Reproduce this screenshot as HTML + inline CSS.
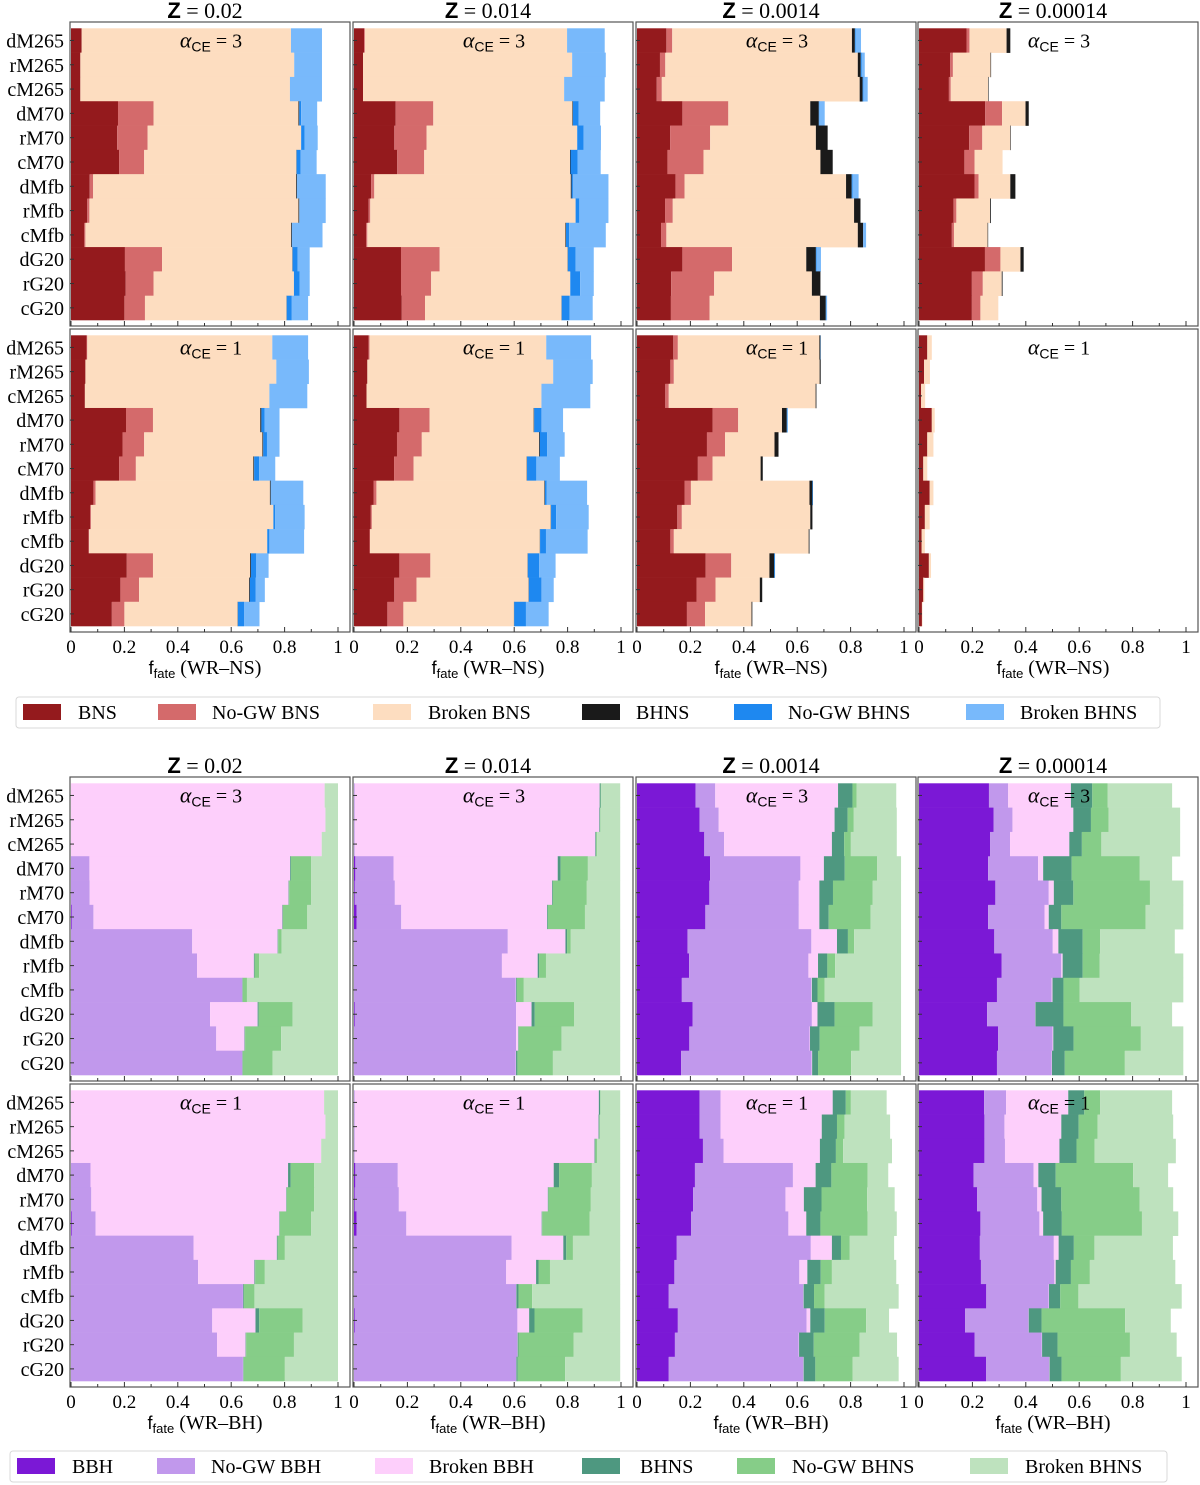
<!DOCTYPE html>
<html><head><meta charset="utf-8"><style>
body{margin:0;background:#fff}
svg{display:block}
.serif{font-family:"Liberation Serif",serif}
.sans{font-family:"Liberation Sans",sans-serif}
</style></head><body>
<svg id="fig" width="1200" height="1485" viewBox="0 0 1200 1485" xmlns="http://www.w3.org/2000/svg"></svg>
<script>
const categories = ["dM265","rM265","cM265","dM70","rM70","cM70","dMfb","rMfb","cMfb","dG20","rG20","cG20"];
const metallicities = ["0.02","0.014","0.0014","0.00014"];
const xTickLabels = ["0","0.2","0.4","0.6","0.8","1"];
const xTickValues = [0,0.2,0.4,0.6,0.8,1];
const nsSeries = ["BNS","No-GW BNS","Broken BNS","BHNS","No-GW BHNS","Broken BHNS"];
const bhSeries = ["BBH","No-GW BBH","Broken BBH","BHNS","No-GW BHNS","Broken BHNS"];
const nsColors = ["#941a1d","#d46a6b","#fdddc0","#1a1a1a","#1e88f0","#78b9fb"];
const bhColors = ["#7b18d6","#c198ec","#fdcffb","#4e9880","#86cd88","#bee2be"];

// cumulative fractions per category (series stacked in order)
const nsA3Z1 = [[.04,.04,.824,.824,.824,.94],[.035,.035,.836,.836,.836,.94],[.035,.035,.82,.82,.82,.94],[.176,.309,.852,.855,.862,.922],[.173,.287,.862,.862,.875,.924],[.18,.274,.844,.845,.86,.92],[.07,.083,.843,.846,.846,.954],[.061,.069,.852,.855,.855,.954],[.05,.054,.824,.827,.827,.942],[.202,.341,.829,.83,.849,.894],[.205,.309,.835,.835,.856,.894],[.2,.277,.807,.808,.827,.888]];
const nsA3Z2 = [[.038,.041,.798,.798,.798,.939],[.034,.034,.817,.817,.817,.943],[.034,.034,.787,.787,.787,.939],[.156,.297,.818,.82,.841,.922],[.151,.272,.836,.836,.86,.925],[.162,.263,.809,.811,.838,.924],[.064,.076,.812,.815,.82,.953],[.055,.061,.83,.83,.844,.953],[.046,.05,.792,.794,.806,.943],[.176,.321,.8,.801,.83,.898],[.176,.289,.81,.81,.847,.898],[.179,.266,.777,.778,.807,.894]];
const nsA3Z3 = [[.11,.132,.805,.816,.819,.839],[.086,.106,.827,.838,.842,.853],[.074,.093,.834,.845,.848,.864],[.17,.342,.649,.681,.683,.703],[.124,.274,.67,.714,.714,.714],[.114,.249,.687,.733,.733,.733],[.144,.178,.783,.804,.808,.83],[.105,.134,.813,.837,.837,.837],[.09,.11,.827,.847,.847,.858],[.17,.356,.634,.67,.673,.689],[.128,.289,.655,.687,.687,.687],[.127,.272,.685,.707,.709,.712]];
const nsA3Z4 = [[.178,.189,.328,.342,.342,.342],[.117,.127,.268,.27,.27,.27],[.112,.119,.259,.261,.261,.261],[.248,.311,.399,.411,.411,.411],[.188,.237,.342,.344,.344,.344],[.17,.208,.313,.313,.313,.313],[.208,.223,.342,.361,.361,.361],[.129,.14,.266,.269,.269,.269],[.123,.131,.257,.259,.259,.259],[.247,.305,.38,.392,.392,.392],[.198,.239,.31,.313,.313,.313],[.198,.23,.297,.297,.297,.297]];
const nsA1Z1 = [[.058,.061,.754,.754,.754,.888],[.054,.054,.769,.769,.769,.891],[.052,.052,.743,.743,.743,.885],[.206,.307,.709,.713,.725,.781],[.193,.274,.717,.72,.734,.781],[.18,.243,.683,.686,.705,.765],[.084,.092,.745,.748,.748,.87],[.072,.075,.758,.758,.765,.875],[.066,.068,.735,.735,.743,.873],[.209,.307,.671,.674,.694,.74],[.185,.255,.667,.67,.691,.726],[.153,.2,.624,.625,.648,.706]];
const nsA1Z2 = [[.055,.058,.72,.72,.72,.888],[.05,.05,.746,.746,.746,.894],[.047,.047,.702,.702,.702,.885],[.17,.283,.673,.675,.702,.783],[.161,.254,.693,.696,.723,.789],[.15,.223,.647,.648,.683,.771],[.073,.084,.713,.715,.722,.873],[.063,.067,.737,.738,.757,.879],[.058,.06,.696,.697,.719,.875],[.17,.286,.65,.651,.693,.755],[.151,.234,.654,.655,.702,.748],[.125,.185,.599,.6,.644,.729]];
const nsA1Z3 = [[.136,.153,.683,.687,.688,.688],[.125,.138,.684,.688,.688,.688],[.106,.119,.669,.672,.672,.672],[.283,.379,.543,.561,.564,.564],[.262,.33,.515,.53,.53,.53],[.228,.283,.463,.471,.471,.471],[.178,.202,.646,.657,.659,.659],[.151,.168,.649,.657,.657,.657],[.125,.138,.643,.646,.646,.646],[.257,.353,.496,.514,.517,.517],[.223,.294,.46,.469,.469,.469],[.187,.255,.429,.432,.432,.432]];
const nsA1Z4 = [[.031,.031,.048,.048,.048,.048],[.019,.019,.041,.041,.041,.041],[.008,.008,.023,.023,.023,.023],[.048,.048,.059,.059,.059,.059],[.031,.031,.054,.054,.054,.054],[.016,.016,.031,.031,.031,.031],[.04,.04,.054,.054,.054,.054],[.022,.022,.04,.04,.04,.04],[.01,.01,.022,.022,.022,.022],[.037,.037,.045,.045,.045,.045],[.016,.016,.02,.02,.02,.02],[.011,.011,.013,.013,.013,.013]];
const bhA3Z1 = [[0,0,.95,.95,.95,1],[0,0,.953,.953,.953,1],[0,0,.939,.939,.939,1],[0,.069,.821,.824,.899,1],[0,.07,.815,.817,.899,1],[.003,.084,.792,.794,.885,1],[0,.454,.774,.776,.789,1],[0,.472,.685,.688,.705,1],[0,.641,.642,.644,.659,1],[0,.521,.699,.703,.83,1],[0,.544,.65,.652,.787,1],[0,.641,.642,.644,.755,1]];
const bhA3Z2 = [[0,.003,.92,.924,.926,.997],[0,.003,.919,.922,.924,.997],[0,.003,.904,.907,.911,.997],[.005,.148,.763,.774,.876,.997],[.003,.153,.742,.745,.872,.997],[.01,.177,.723,.726,.865,.997],[0,.576,.792,.798,.812,.997],[0,.554,.688,.693,.719,.997],[0,.606,.607,.61,.636,.997],[.003,.607,.665,.677,.824,.997],[0,.607,.615,.617,.777,.997],[0,.606,.607,.612,.745,.997]];
const bhA3Z3 = [[.219,.293,.753,.807,.823,.971],[.234,.306,.74,.789,.812,.973],[.252,.326,.73,.776,.801,.973],[.274,.612,.7,.778,.899,.989],[.271,.606,.683,.734,.883,.989],[.256,.606,.683,.718,.875,.989],[.189,.653,.749,.79,.813,.989],[.195,.642,.678,.713,.742,.989],[.168,.653,.655,.676,.703,.989],[.208,.655,.676,.74,.883,.989],[.196,.646,.648,.684,.834,.989],[.165,.654,.656,.678,.802,.989]];
const bhA3Z4 = [[.262,.334,.569,.649,.706,.948],[.279,.35,.578,.644,.71,.978],[.266,.341,.563,.61,.683,.978],[.259,.446,.465,.572,.827,.948],[.286,.486,.505,.578,.865,.99],[.259,.47,.486,.533,.849,.99],[.282,.501,.522,.613,.678,.958],[.309,.533,.538,.613,.677,.99],[.292,.497,.5,.541,.602,.99],[.255,.435,.436,.541,.794,.948],[.296,.5,.503,.579,.831,.99],[.292,.497,.498,.546,.771,.99]];
const bhA1Z1 = [[0,0,.948,.948,.948,1],[0,0,.953,.953,.953,1],[0,0,.937,.937,.937,1],[0,.073,.813,.823,.911,1],[0,.076,.806,.808,.911,1],[.003,.092,.78,.782,.899,1],[0,.459,.771,.774,.801,1],[0,.476,.687,.69,.726,1],[0,.644,.645,.648,.687,1],[0,.529,.691,.705,.867,1],[0,.547,.654,.656,.835,1],[0,.644,.645,.647,.801,1]];
const bhA1Z2 = [[0,.003,.917,.922,.924,.997],[0,.003,.916,.919,.921,.997],[0,.003,.901,.904,.91,.997],[.005,.164,.748,.768,.891,.997],[.003,.168,.726,.728,.887,.997],[.01,.196,.703,.705,.882,.997],[0,.59,.784,.795,.82,.997],[0,.57,.682,.691,.734,.997],[0,.607,.608,.616,.667,.997],[.003,.612,.656,.676,.856,.997],[0,.612,.613,.616,.823,.997],[0,.607,.608,.613,.791,.997]];
const bhA1Z3 = [[.234,.313,.733,.782,.801,.935],[.234,.313,.692,.749,.777,.948],[.247,.324,.685,.745,.772,.955],[.217,.584,.669,.728,.864,.941],[.21,.556,.625,.691,.862,.965],[.203,.567,.634,.687,.864,.973],[.149,.651,.73,.764,.797,.963],[.14,.608,.638,.688,.73,.971],[.119,.623,.624,.663,.703,.98],[.153,.635,.649,.703,.858,.944],[.142,.606,.607,.662,.834,.974],[.119,.623,.624,.668,.808,.98]];
const bhA1Z4 = [[.244,.326,.559,.619,.678,.948],[.245,.32,.533,.598,.669,.952],[.245,.322,.526,.59,.658,.962],[.204,.429,.447,.512,.802,.933],[.218,.443,.459,.533,.826,.952],[.23,.451,.465,.535,.835,.971],[.228,.505,.523,.58,.657,.951],[.232,.507,.512,.569,.64,.96],[.252,.486,.487,.529,.597,.984],[.173,.41,.411,.459,.772,.943],[.208,.46,.461,.519,.79,.965],[.251,.488,.489,.534,.756,.984]];

const NS='http://www.w3.org/2000/svg';
const svg=document.getElementById('fig');
function mk(tag,attrs,parent){const e=document.createElementNS(NS,tag);for(const k in attrs)e.setAttribute(k,attrs[k]);(parent||svg).appendChild(e);return e;}

const colX0=[71,354,637,919];
const XS=267;
const rowFrames=[[22,326],[329,632],[777,1081],[1084,1387]];
const panelData=[[nsA3Z1,nsA3Z2,nsA3Z3,nsA3Z4],[nsA1Z1,nsA1Z2,nsA1Z3,nsA1Z4],[bhA3Z1,bhA3Z2,bhA3Z3,bhA3Z4],[bhA1Z1,bhA1Z2,bhA1Z3,bhA1Z4]];
const rowAlpha=["3","1","3","1"];

for(let r=0;r<4;r++){
  const [fy0,fy1]=rowFrames[r];
  const by0=fy0+6.3, by1=fy1-6;
  const bh=(by1-by0)/categories.length;
  const colors=r<2?nsColors:bhColors;
  const names=r<2?nsSeries:bhSeries;
  for(let c=0;c<4;c++){
    const x0=colX0[c];
    const xs=v=>x0+v*XS;
    const ys=i=>by0+i*bh;
    const g=mk('g',{});
    
    
    const data=panelData[r][c];
    data.forEach((row,i)=>{
      let prev=0;
      for(let s=0;s<6;s++){
        const v=row[s]; const w=xs(v)-xs(prev);
        if(w>0.05){
          const rc=mk('rect',{x:xs(prev),y:ys(i),width:w,height:bh+0.3,fill:colors[s]},g);
          
          
        }
        prev=Math.max(prev,v);
      }
    });
    const fr=mk('rect',{x:x0-1,y:fy0,width:280,height:fy1-fy0,fill:'none',stroke:'#555','stroke-width':1.2},g);
    
    
    categories.forEach((cat,i)=>{
      mk('line',{x1:x0-1,x2:x0+3,y1:ys(i)+bh/2,y2:ys(i)+bh/2,stroke:'#333','stroke-width':1},g);
      if(c===0){
        const t=mk('text',{x:64,y:ys(i)+bh/2+7,'text-anchor':'end','font-size':20,class:'serif',fill:'#000'},g);
        t.textContent=cat;
        
        
      }
    });
    for(let k=0;k<=10;k++){
      const xx=xs(k/10);
      mk('line',{x1:xx,x2:xx,y1:fy1,y2:fy1-(k%2===0?5:3),stroke:'#333','stroke-width':1},g);
    }
    const al=mk('text',{x:x0+140,y:by0+19,'text-anchor':'middle','font-size':20,class:'serif',fill:'#000'},g);
    
    
    const a1=mk('tspan',{'font-style':'italic','font-size':22},al);a1.textContent='α';
    const a2=mk('tspan',{class:'sans','font-size':14,dy:4},al);a2.textContent='CE';
    const a3=mk('tspan',{dy:-4},al);a3.textContent=' = '+rowAlpha[r];
    if(r===0||r===2){
      const tt=mk('text',{x:x0+134,y:fy0-4,'text-anchor':'middle','font-size':22,fill:'#000'});
      
      
      const t1=mk('tspan',{class:'sans','font-weight':'bold'},tt);t1.textContent='Z';
      const t2=mk('tspan',{class:'serif'},tt);t2.textContent=' = '+metallicities[c];
    }
    if(r===1||r===3){
      xTickValues.forEach((v,k)=>{
        const t=mk('text',{x:xs(v),y:fy1+21,'text-anchor':'middle','font-size':19,class:'serif',fill:'#000'});
        t.textContent=xTickLabels[k];
        
        
      });
      const xl=mk('text',{x:x0+134,y:fy1+42,'text-anchor':'middle','font-size':20,fill:'#000'});
      
      
      const l1=mk('tspan',{class:'sans','font-size':18},xl);l1.textContent='f';
      const l2=mk('tspan',{class:'sans','font-size':13,dy:4},xl);l2.textContent='fate';
      const l3=mk('tspan',{class:'serif',dy:-4},xl);l3.textContent=r===1?' (WR–NS)':' (WR–BH)';
    }
  }
}

const legends=[
  {y:697,box:[16,1160],patch:[23,158,373,582,734,966],text:[78,212,428,636,788,1020],names:nsSeries,colors:nsColors,key:'ns'},
  {y:1451,box:[10,1167],patch:[17,157,375,582,737,970],text:[72,211,429,640,792,1025],names:bhSeries,colors:bhColors,key:'bh'}
];
legends.forEach(L=>{
  const g=mk('g',{});
  
  
  mk('rect',{x:L.box[0],y:L.y,width:L.box[1]-L.box[0],height:31,rx:3,fill:'#fff',stroke:'#d8d8d8','stroke-width':1},g);
  L.names.forEach((n,i)=>{
    const e=mk('g',{},g);
    
    
    mk('rect',{x:L.patch[i],y:L.y+7,width:38,height:16,fill:L.colors[i]},e);
    const t=mk('text',{x:L.text[i],y:L.y+22,'font-size':20,class:'serif',fill:'#000'},e);
    t.textContent=n;
  });
});
</script>
</body></html>
